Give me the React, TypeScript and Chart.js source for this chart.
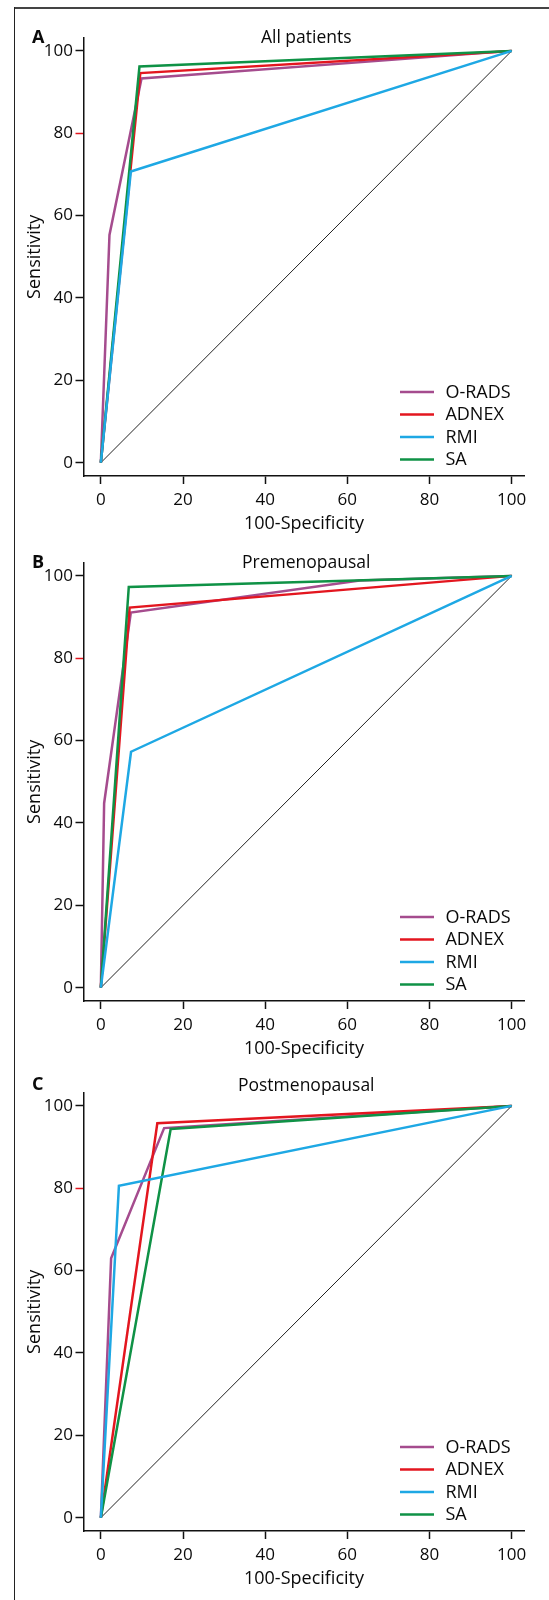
import React, { useEffect, useRef } from 'react';
import { Chart, registerables } from 'chart.js';

Chart.register(...registerables);

const FONT = "'Open Sans', 'Noto Sans', sans-serif";

// ---- names, colours, ticks ----
const SERIES_NAMES = ['O-RADS', 'ADNEX', 'RMI', 'SA'];
const SERIES_COLORS = ['#a54c8e', '#e3161f', '#1ea8e4', '#0f9246'];
const X_TICKS = [0, 20, 40, 60, 80, 100];
const Y_TICKS = [0, 20, 40, 60, 80, 100];
const PANEL_LETTERS = ['A', 'B', 'C'];
const PANEL_TITLES = ['All patients', 'Premenopausal', 'Postmenopausal'];
const X_TITLE = '100-Specificity';
const Y_TITLE = 'Sensitivity';

// ---- data: [100-specificity, sensitivity] ----
const A_ORADS = [[0, 0], [2.1, 55.3], [9.9, 93.3], [100, 100]];
const A_ADNEX = [[0, 0], [9.6, 94.6], [100, 100]];
const A_RMI = [[0, 0], [7.3, 70.7], [100, 100]];
const A_SA = [[0, 0], [9.4, 96.2], [100, 100]];

const B_ORADS = [[0, 0], [0.8, 44.8], [7.3, 91.1], [63, 98.9], [100, 100]];
const B_ADNEX = [[0, 0], [7.0, 92.3], [100, 100]];
const B_RMI = [[0, 0], [7.35, 57.3], [100, 100]];
const B_SA = [[0, 0], [6.8, 97.3], [100, 100]];

const C_ORADS = [[0, 0], [2.5, 63], [15.4, 94.6], [100, 100]];
const C_ADNEX = [[0, 0], [13.75, 95.8], [100, 100]];
const C_RMI = [[0, 0], [4.4, 80.6], [100, 100]];
const C_SA = [[0, 0], [17, 94.4], [100, 100]];

const DIAGONAL = [[0, 0], [100, 100]];

const PANEL_SERIES = [
  [A_ORADS, A_ADNEX, A_RMI, A_SA],
  [B_ORADS, B_ADNEX, B_RMI, B_SA],
  [C_ORADS, C_ADNEX, C_RMI, C_SA],
];

// ---- layout (page px) ----
const PANEL_OFFSETS = [0, 525, 1055];
const TITLE_DY = [5.3, 5.3, -2.2];
const CANVAS_W = 549;
const CANVAS_H = 525;
const CANVAS_TOP = 12;
const TEXT = '#0a0a0a';

const overlayPlugin = {
  id: 'overlay',
  afterDraw(chart: any, _args: any, opts: any) {
    const { ctx, chartArea, scales } = chart;
    ctx.save();
    ctx.fillStyle = TEXT;
    ctx.textBaseline = 'alphabetic';
    ctx.font = `17.5px ${FONT}`;
    ctx.textAlign = 'center';
    ctx.fillText(opts.title, scales.x.getPixelForValue(50), chartArea.top + opts.titleDy);
    ctx.font = `bold 18px ${FONT}`;
    ctx.textAlign = 'left';
    ctx.fillText(opts.letter, 32, chartArea.top + opts.titleDy - 0.5);

    // legend
    ctx.font = `18px ${FONT}`;
    ctx.textBaseline = 'middle';
    chart.data.datasets.forEach((ds: any, i: number) => {
      if (i >= SERIES_NAMES.length) return;
      const y = chartArea.bottom - 84 + i * 22.5;
      ctx.strokeStyle = ds.borderColor;
      ctx.lineWidth = 2.7;
      ctx.beginPath();
      ctx.moveTo(chartArea.right - 124, y);
      ctx.lineTo(chartArea.right - 90, y);
      ctx.stroke();
      ctx.fillStyle = TEXT;
      ctx.fillText(ds.label, chartArea.right - 78.6, y + 0.5);
    });
    ctx.restore();
  },
};

function Panel({ index }: { index: number }) {
  const ref = useRef<HTMLCanvasElement | null>(null);
  useEffect(() => {
    if (!ref.current) return;
    const series = PANEL_SERIES[index];
    const datasets: any[] = SERIES_NAMES.map((name, i) => ({
      label: name,
      data: series[i].map(([x, y]) => ({ x, y })),
      borderColor: SERIES_COLORS[i],
      backgroundColor: SERIES_COLORS[i],
      borderWidth: 2.5,
      pointRadius: 0,
      showLine: true,
      fill: false,
      tension: 0,
      order: [3, 2, 0, 1][i],
    }));
    datasets.push({
      label: 'Reference',
      data: DIAGONAL.map(([x, y]) => ({ x, y })),
      borderColor: '#222',
      borderWidth: 1,
      pointRadius: 0,
      showLine: true,
      fill: false,
      order: 10,
    });
    const tickFont = { family: FONT, size: 17 };
    const titleFont = { family: FONT, size: 18 };
    const chart = new Chart(ref.current, {
      type: 'scatter',
      data: { datasets },
      plugins: [overlayPlugin],
      options: {
        animation: false,
        responsive: false,
        devicePixelRatio: 1,
        layout: { padding: { top: 25.7, right: 25, bottom: 0, left: 0 } },
        plugins: {
          legend: { display: false },
          tooltip: { enabled: false },
          title: { display: false },
          overlay: { title: PANEL_TITLES[index], letter: PANEL_LETTERS[index], titleDy: TITLE_DY[index] },
        } as any,
        scales: {
          x: {
            type: 'linear',
            min: -4.1,
            max: 103,
            afterBuildTicks: (s: any) => {
              s.ticks = X_TICKS.map((v) => ({ value: v }));
            },
            afterFit: (s: any) => {
              s.height = 61;
            },
            grid: { drawOnChartArea: false, drawTicks: true, tickLength: 8, tickWidth: 1.5, tickColor: '#111' },
            border: { display: true, color: '#111', width: 1.5 },
            ticks: { color: TEXT, font: tickFont, padding: 6, maxRotation: 0, autoSkip: false },
            title: { display: true, text: X_TITLE, color: TEXT, font: titleFont, padding: { top: 0, bottom: 2.5 } },
          },
          y: {
            type: 'linear',
            min: -3.23,
            max: 103.2,
            afterBuildTicks: (s: any) => {
              s.ticks = Y_TICKS.map((v) => ({ value: v }));
            },
            afterFit: (s: any) => {
              s.width = 84;
            },
            grid: {
              drawOnChartArea: false,
              drawTicks: true,
              tickLength: 8.5,
              tickWidth: 1.5,
              tickColor: (c: any) => (c.tick && c.tick.value === 80 ? '#e3161f' : '#111'),
            },
            border: { display: true, color: '#111', width: 1.5 },
            ticks: { color: TEXT, font: tickFont, padding: 2.5, autoSkip: false },
            title: { display: true, text: Y_TITLE, color: TEXT, font: titleFont, padding: { top: 24.5, bottom: 0 } },
          },
        },
      } as any,
    });
    return () => chart.destroy();
  }, [index]);
  return (
    <canvas
      ref={ref}
      width={CANVAS_W}
      height={CANVAS_H}
      style={{
        position: 'absolute',
        left: 0,
        top: PANEL_OFFSETS[index] + CANVAS_TOP,
        width: CANVAS_W,
        height: CANVAS_H,
      }}
    />
  );
}

export default function App() {
  return (
    <div style={{ position: 'absolute', left: 0, top: 0, width: 549, height: 1600, background: '#fff', overflow: 'hidden' }}>
      <div style={{ position: 'absolute', left: 14, top: 7, width: 535, height: 2, background: '#444' }} />
      <div style={{ position: 'absolute', left: 14, top: 7, width: 1, height: 1593, background: '#222' }} />
      {PANEL_TITLES.map((_, i) => (
        <Panel key={i} index={i} />
      ))}
    </div>
  );
}
